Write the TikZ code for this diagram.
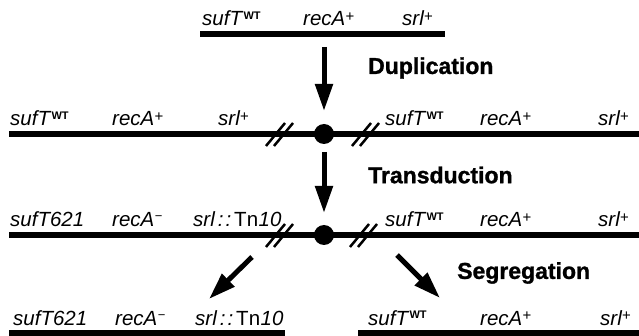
\documentclass[tikz,border=0pt]{standalone}
\usepackage{fontspec}
\setmainfont{Liberation Sans}
\newfontfamily\heavyfont[FakeBold=1.2]{Liberation Sans Bold}
\usetikzlibrary{arrows.meta}
\newcommand\supu[3]{\raisebox{#1}{\fontsize{#2}{#2}\selectfont\upshape #3}}
\newcommand\wtsup{\kern1.5pt\raisebox{6.5pt}{\fontsize{11}{11}\selectfont\upshape\bfseries WT}}
\newcommand\plussup{\kern0.3pt\supu{4.5pt}{15}{+}}
\newcommand\minussup{\kern0.5pt\supu{6pt}{13}{\textminus}}
\newcommand\tnten{srl\kern3pt:\kern2pt:\kern3pt{\upshape Tn}\kern0.5pt 10}
\tikzset{
  gene/.style={anchor=base west, inner sep=0pt, font=\fontsize{20.5}{20.5}\selectfont\itshape},
  proc/.style={anchor=west, inner sep=0pt, font=\fontsize{23}{23}\heavyfont},
  chrom/.style={line width=6pt},
  brk/.style={line width=2.5pt},
  bigarrow/.style={line width=5pt, -{Triangle[width=17pt,length=27pt]}},
  centro/.style={circle, fill=black, inner sep=0pt, minimum size=20pt},
}
\begin{document}
\begin{tikzpicture}[x=1pt,y=-1pt]
\useasboundingbox (0,0) rectangle (639,336);
% ---- top donor fragment
\coordinate (r1a) at (200,34); \coordinate (r1b) at (445,34);
\draw[chrom] (r1a) -- (r1b);
\node[gene] (t1) at (202,26) {sufT\wtsup};
\node[gene] (t2) at (303,26) {recA\plussup};
\node[gene] (t3) at (402,26) {srl\plussup};
% ---- arrow 1
\coordinate (a1s) at (324,47); \coordinate (a1e) at (324,111);
\draw[bigarrow] (a1s) -- (a1e);
\node[proc] (dup) at (368,68) {Duplication};
% ---- row 2
\coordinate (r2a) at (9,134); \coordinate (r2b) at (639,134);
\draw[chrom] (r2a) -- (r2b);
\node[centro] (c2) at (324,134) {};
\node[gene] (u1) at (10,126) {sufT\wtsup};
\node[gene] (u2) at (112,126) {recA\plussup};
\node[gene] (u3) at (218,126) {srl\plussup};
\node[gene] (u4) at (385,126) {sufT\wtsup};
\node[gene] (u5) at (480,126) {recA\plussup};
\node[gene] (u6) at (598,126) {srl\plussup};
\foreach \cx in {281,367}{
  \draw[brk] (\cx-15,146) -- (\cx+4,123);
  \draw[brk] (\cx-7,146) -- (\cx+12,123);
}
% ---- arrow 2
\coordinate (a2s) at (324,152); \coordinate (a2e) at (324,213);
\draw[bigarrow] (a2s) -- (a2e);
\node[proc] (trd) at (368,175) {Transduction};
% ---- row 3
\coordinate (r3a) at (9,235); \coordinate (r3b) at (639,235);
\draw[chrom] (r3a) -- (r3b);
\node[centro] (c3) at (324,235) {};
\node[gene] (v1) at (10,227) {sufT621};
\node[gene] (v2) at (112,227) {recA\minussup};
\node[gene] (v3) at (193,227) {\tnten};
\node[gene] (v4) at (385,227) {sufT\wtsup};
\node[gene] (v5) at (480,227) {recA\plussup};
\node[gene] (v6) at (598,227) {srl\plussup};
\foreach \cx in {281,365}{
  \draw[brk] (\cx-15,247) -- (\cx+4,224);
  \draw[brk] (\cx-7,247) -- (\cx+12,224);
}
% ---- diagonal arrows
\coordinate (d1s) at (252,257); \coordinate (d1e) at (209,299);
\draw[bigarrow] (d1s) -- (d1e);
\coordinate (d2s) at (397,255); \coordinate (d2e) at (440,298);
\draw[bigarrow] (d2s) -- (d2e);
\node[proc] (seg) at (457,273) {Segregation};
% ---- row 4
\coordinate (r4a) at (9,333); \coordinate (r4b) at (285,333);
\draw[chrom] (r4a) -- (r4b);
\coordinate (r4c) at (358,333); \coordinate (r4d) at (639,333);
\draw[chrom] (r4c) -- (r4d);
\node[gene] (w1) at (13,325) {sufT621};
\node[gene] (w2) at (115,325) {recA\minussup};
\node[gene] (w3) at (195,325) {\tnten};
\node[gene] (w4) at (368,325) {sufT\wtsup};
\node[gene] (w5) at (480,325) {recA\plussup};
\node[gene] (w6) at (600,325) {srl\plussup};
\end{tikzpicture}
\end{document}
